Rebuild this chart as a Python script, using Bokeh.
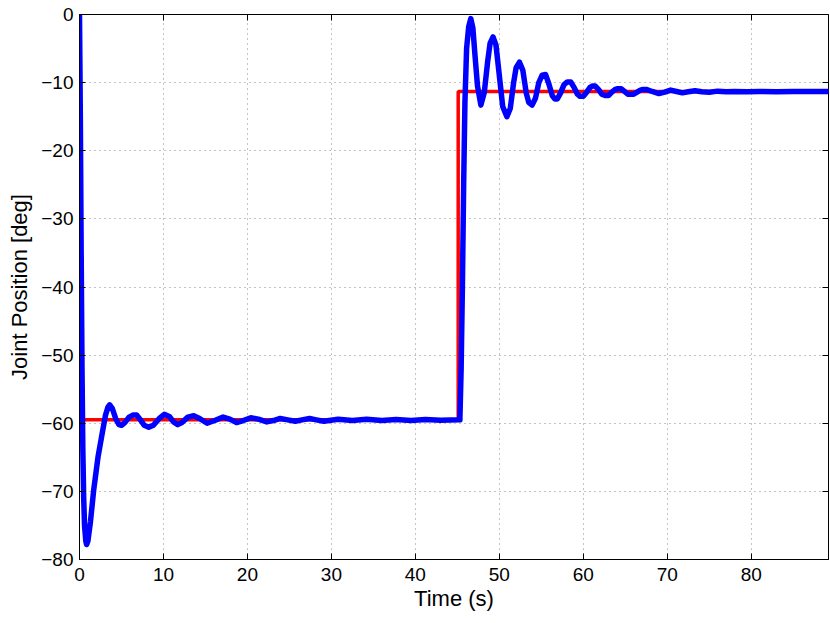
from bokeh.plotting import figure
from bokeh.models import Range1d, LinearAxis, FixedTicker
from bokeh.embed import file_html
from bokeh.resources import INLINE

# Reference (commanded) joint position
ref_t = [0, 45.1, 45.1, 89.2]
ref_y = [-59.5, -59.5, -11.3, -11.3]

blue_t1 = [0, 0.1, 0.2, 0.3, 0.4, 0.5, 0.6, 0.75, 0.85, 1.0, 1.3, 1.7, 2.2, 2.7, 3.1, 3.4, 3.6, 3.9,
           4.3, 4.7, 5.0, 5.4, 5.9, 6.4, 6.8, 7.2, 7.7, 8.25, 8.8, 9.5, 10.1, 10.7, 11.2, 11.7, 12.2,
           12.9, 13.6, 14.3, 15.2, 16.1, 17.1, 17.9, 18.7, 19.5, 20.4, 21.3, 22.3, 23.1, 23.9, 24.8,
           25.7, 26.5, 27.4, 28.2, 29.1, 30.8, 32.5, 34.2, 36.0, 37.7, 39.5, 41.2, 43.0, 45.3]
blue_y1 = [0, -15, -35, -52, -64, -71, -75, -77.3, -77.8, -77.3, -74.5, -69.7, -65.0, -61.5, -58.8,
           -57.6, -57.3, -57.8, -59.3, -60.2, -60.3, -59.9, -59.1, -58.8, -58.8, -59.4, -60.3, -60.6,
           -60.3, -59.3, -58.7, -59.0, -59.8, -60.2, -59.9, -59.1, -58.9, -59.3, -60.0, -59.6, -59.1,
           -59.4, -59.9, -59.6, -59.2, -59.4, -59.8, -59.6, -59.3, -59.5, -59.7, -59.5, -59.3, -59.5,
           -59.7, -59.4, -59.6, -59.4, -59.6, -59.45, -59.6, -59.45, -59.55, -59.5]

# Measured joint position, second step
blue_t2 = [45.3, 45.45, 45.6, 45.75, 45.9, 46.1, 46.35, 46.6, 46.85, 47.1, 47.4, 47.8, 48.2, 48.6,
           48.9, 49.25, 49.6, 50.0, 50.4, 50.9, 51.3, 51.7, 52.0, 52.4, 52.8, 53.2, 53.5, 53.9, 54.3,
           54.7, 55.1, 55.5, 55.9, 56.3, 56.6, 56.9, 57.3, 57.7, 58.1, 58.5, 58.9, 59.3, 59.6, 60.0,
           60.4, 60.8, 61.1, 61.4, 61.8, 62.2, 62.6, 63.0, 63.4, 63.8, 64.1, 64.5, 64.9, 65.3, 65.6,
           66.0, 66.4, 66.8, 67.1, 67.5, 68.2, 69.0, 69.7, 70.4, 71.1, 71.8, 72.5, 73.3, 74.1, 75.0,
           76.0, 77.0, 78.0, 79.5, 81.0, 83.0, 85.0, 87.0, 89.2]
blue_y2 = [-59.5, -52, -40, -25, -13, -5, -1.8, -0.6, -2, -6, -10.5, -13.3, -11.5, -7, -4.2, -3.3,
           -4.5, -9, -13.5, -15.0, -13.8, -10, -7.8, -7.0, -8.2, -11.5, -12.9, -13.3, -12.3, -10,
           -8.9, -8.8, -10.2, -11.9, -12.4, -12.4, -11.5, -10.3, -9.9, -9.9, -10.7, -11.7, -12.0,
           -12.0, -11.4, -10.7, -10.5, -10.5, -11.0, -11.7, -11.9, -11.9, -11.4, -11.0, -10.9, -10.9,
           -11.3, -11.7, -11.7, -11.7, -11.4, -11.1, -11.0, -11.0, -11.3, -11.6, -11.4, -11.1, -11.3,
           -11.5, -11.35, -11.2, -11.35, -11.4, -11.25, -11.35, -11.3, -11.35, -11.3, -11.35, -11.3,
           -11.3, -11.3]

assert len(blue_t1) == len(blue_y1), (len(blue_t1), len(blue_y1))
assert len(blue_t2) == len(blue_y2), (len(blue_t2), len(blue_y2))

x_ticks = [0, 10, 20, 30, 40, 50, 60, 70, 80]
y_ticks = [-80, -70, -60, -50, -40, -30, -20, -10, 0]
y_tick_labels = ["\u221280", "\u221270", "\u221260", "\u221250", "\u221240",
                 "\u221230", "\u221220", "\u221210", "0"]

FONT = "Liberation Sans"

p = figure(width=830, height=620, output_backend="svg", toolbar_location=None,
           x_range=Range1d(0, 89.2), y_range=Range1d(-80, 0),
           min_border_left=79, min_border_right=2, min_border_top=14, min_border_bottom=61)
p.background_fill_color = "white"
p.border_fill_color = "white"
p.outline_line_color = "black"
p.outline_line_width = 1

p.line(ref_t, ref_y, line_color="#ff0000", line_width=3.5)
p.line(blue_t1 + blue_t2, blue_y1 + blue_y2, line_color="#0000ff", line_width=5.5,
       line_join="round", line_cap="round")

for ax in (p.xaxis[0], p.yaxis[0]):
    ax.major_tick_in = 6
    ax.major_tick_out = 0
    ax.minor_tick_in = 0
    ax.minor_tick_out = 0
    ax.axis_line_color = "black"
    ax.major_label_text_font = FONT
    ax.major_label_text_font_size = "19px"
    ax.major_label_text_color = "black"
    ax.axis_label_text_font = FONT
    ax.axis_label_text_font_size = "22px"
    ax.axis_label_text_font_style = "normal"
    ax.axis_label_text_color = "black"

p.xaxis[0].ticker = FixedTicker(ticks=x_ticks)
p.yaxis[0].ticker = FixedTicker(ticks=y_ticks)
p.yaxis[0].major_label_overrides = dict(zip(y_ticks, y_tick_labels))
p.xaxis[0].axis_label = "Time (s)"
p.yaxis[0].axis_label = "Joint Position [deg]"
p.xaxis[0].major_label_standoff = 8
p.yaxis[0].major_label_standoff = 6
p.xaxis[0].axis_label_standoff = 2
p.yaxis[0].axis_label_standoff = 6

# box ticks on top and right (MATLAB style), no labels
top = LinearAxis(ticker=FixedTicker(ticks=x_ticks),
                 major_label_overrides={t: "" for t in x_ticks},
                 major_tick_in=6, major_tick_out=0, minor_tick_in=0, minor_tick_out=0,
                 axis_line_color=None, major_label_standoff=0)
right = LinearAxis(ticker=FixedTicker(ticks=y_ticks),
                   major_label_overrides={t: "" for t in y_ticks},
                   major_tick_in=6, major_tick_out=0, minor_tick_in=0, minor_tick_out=0,
                   axis_line_color=None, major_label_standoff=0)
p.add_layout(top, "above")
p.add_layout(right, "right")

p.xgrid.ticker = FixedTicker(ticks=x_ticks)
p.ygrid.ticker = FixedTicker(ticks=y_ticks)
for g in (p.xgrid[0], p.ygrid[0]):
    g.grid_line_color = "#888888"
    g.grid_line_dash = "1 4"
    g.grid_line_width = 1

open("out.html", "w").write(file_html(p, INLINE))
